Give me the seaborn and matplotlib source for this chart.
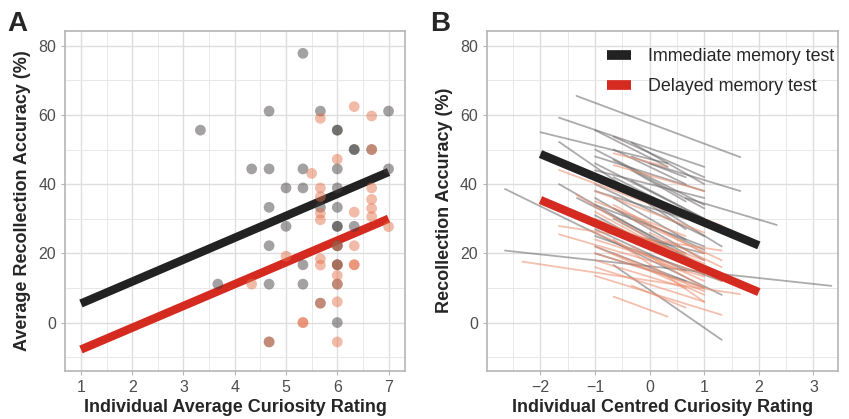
import numpy as np
import pandas as pd
import matplotlib
matplotlib.use("Agg")
import matplotlib.pyplot as plt
from matplotlib.lines import Line2D
from matplotlib.ticker import MultipleLocator
import seaborn as sns

# ---- Panel A: subject averages (curiosity, recollection %) ----
imm_curiosity = [3.33, 3.67, 4.33, 4.67, 4.67, 4.67, 4.67, 4.67, 4.67, 5.0, 5.0,
                 5.33, 5.33, 5.33, 5.33, 5.33, 5.67, 5.67, 5.67, 6.0, 6.0, 6.0,
                 6.0, 6.0, 6.0, 6.0, 6.0, 6.0, 6.0, 6.0, 6.0, 6.0, 6.33, 6.33,
                 6.33, 6.67, 7.0, 7.0]
imm_recall = [55.6, 11.1, 44.4, 61.1, 44.4, 33.3, 22.2, 11.1, -5.6, 38.9, 27.8,
              77.8, 44.4, 38.9, 16.7, 11.1, 61.1, 33.3, 5.6, 55.6, 55.6, 44.4,
              38.9, 33.3, 27.8, 27.8, 22.2, 22.2, 16.7, 16.7, 11.1, 0.0, 50.0, 50.0,
              27.8, 50.0, 61.1, 44.4]

del_curiosity = [4.33, 4.67, 5.0, 5.33, 5.33, 5.5, 5.67, 5.67, 5.67, 5.67, 5.67,
                 5.67, 5.67, 5.67, 6.0, 6.0, 6.0, 6.0, 6.0, 6.0, 6.0, 6.33, 6.33,
                 6.33, 6.33, 6.33, 6.67, 6.67, 6.67, 6.67, 6.67, 6.67, 7.0]
del_recall = [11.1, -5.6, 19.2, 0.0, 0.0, 43.1, 59.0, 38.9, 36.4, 31.6, 29.7,
              18.4, 16.6, 5.6, 47.2, 22.2, 16.7, 13.6, 11.1, 6.0, -5.6, 62.4, 31.9,
              22.2, 16.7, 16.7, 59.7, 50.0, 38.9, 35.6, 33.0, 30.6, 27.7]

# group-level fits, panel A
fit_a_x = [1, 7]
fit_a_imm = [5.5, 43.5]
fit_a_del = [-7.8, 30.0]

# ---- Panel B: per-subject slopes on centred curiosity (start / end) ----
imm_c0 = [-1.34, -2.0, -1.66, -1.66, -2.65, -2.65, -0.66, 0.66, -0.66, -1.0, -1.0,
          -1.0, -1.0, -1.0, -1.0, -1.0, -1.0, -1.0, -0.66, -0.66, -0.33, -0.33,
          -1.0, -1.0, -1.33, -1.66, -0.33, -0.66, 0.0, -1.0, -0.66, -1.0, -0.66,
          -0.33, -1.0, -1.0, -0.66, -1.0, -0.33]
imm_v0 = [65.5, 55.0, 59.2, 52.2, 38.6, 20.8, 16.6, 36.0, 53.7, 55.6, 48.0,
          46.0, 44.0, 40.0, 36.0, 34.0, 31.0, 28.0, 50.0, 47.0, 52.0, 44.0,
          25.0, 22.0, 36.0, 40.0, 38.0, 42.0, 46.0, 38.0, 30.0, 42.0, 36.0,
          48.0, 20.0, 50.0, 33.0, 27.0, 41.0]
imm_c1 = [1.66, 0.33, 1.0, 0.66, 1.32, 3.33, 1.32, 2.33, 1.0, 0.33, 1.0,
          1.0, 1.0, 1.0, 1.0, 1.0, 1.0, 1.0, 0.66, 1.0, 1.0, 0.66,
          1.32, 1.0, 0.66, 1.0, 1.32, 1.32, 1.66, 0.66, 1.0, 1.0, 0.66,
          0.66, 0.66, 1.0, 1.0, 0.66, 1.0]
imm_v1 = [47.8, 46.0, 45.0, 27.0, 8.0, 10.6, -5.0, 28.2, 42.0, 45.0, 38.0,
          30.0, 36.0, 25.0, 18.0, 22.0, 14.0, 20.0, 40.0, 33.0, 40.0, 35.0,
          12.0, 10.0, 20.0, 16.0, 22.0, 26.0, 38.0, 30.0, 16.0, 28.0, 24.0,
          42.0, 12.0, 34.0, 21.0, 15.0, 30.0]

del_c0 = [-2.33, -1.66, -1.66, -0.66, -0.33, -1.0, -1.66, -1.34, -0.66, -0.66,
          -1.0, -1.0, -1.0, -1.0, -1.0, -1.0, -1.0, -0.66, -0.66, -0.33, -1.0,
          -0.66, -1.33, -0.33, 0.0, -1.0, -0.66, -1.0, -1.0, -0.66]
del_v0 = [17.6, 27.9, 25.5, 7.5, 10.7, 13.5, 44.1, 36.9, 45.5, 48.9,
          32.0, 29.0, 26.0, 24.0, 22.0, 20.0, 18.0, 34.0, 28.0, 30.0, 35.0,
          24.0, 30.0, 22.0, 26.0, 38.0, 40.0, 16.0, 30.0, 20.0]
del_c1 = [1.66, 1.32, 1.0, 0.33, 0.66, 1.32, 0.66, 0.33, 1.0, 0.33,
          1.0, 1.0, 1.0, 1.0, 1.0, 1.0, 0.66, 1.0, 1.32, 1.32, 0.66,
          1.0, 0.66, 1.0, 1.32, 1.0, 1.32, 1.0, 1.0, 1.0]
del_v1 = [8.2, 20.8, 13.3, 1.7, 4.3, 2.2, 30.4, 21.0, 38.0, 45.0,
          15.0, 18.0, 12.0, 14.0, 8.0, 10.0, 10.0, 20.0, 12.0, 18.0, 25.0,
          6.0, 20.0, 10.0, 16.0, 26.0, 28.0, 6.0, 17.0, 9.0]

# group-level fits, panel B
fit_b_x = [-2, 2]
fit_b_imm = [48.7, 22.3]
fit_b_del = [35.4, 8.8]

col_imm = "#222222"
col_del = "#D42A20"
pt_imm = "#403c3c"
pt_del = "#E4714A"

df_a = pd.concat([
    pd.DataFrame({"curiosity": imm_curiosity, "recall": imm_recall, "test": "Immediate"}),
    pd.DataFrame({"curiosity": del_curiosity, "recall": del_recall, "test": "Delayed"}),
])

rows = []
for i in range(len(imm_c0)):
    rows.append(["imm%d" % i, imm_c0[i], imm_v0[i], "Immediate"])
    rows.append(["imm%d" % i, imm_c1[i], imm_v1[i], "Immediate"])
for i in range(len(del_c0)):
    rows.append(["del%d" % i, del_c0[i], del_v0[i], "Delayed"])
    rows.append(["del%d" % i, del_c1[i], del_v1[i], "Delayed"])
df_b = pd.DataFrame(rows, columns=["subject", "centred", "recall", "test"])

df_fit_a = pd.DataFrame({"x": fit_a_x * 2, "y": fit_a_imm + fit_a_del,
                         "test": ["Immediate"] * 2 + ["Delayed"] * 2})
df_fit_b = pd.DataFrame({"x": fit_b_x * 2, "y": fit_b_imm + fit_b_del,
                         "test": ["Immediate"] * 2 + ["Delayed"] * 2})

sns.set_theme(style="white")
plt.rcParams["font.family"] = ["Liberation Sans", "DejaVu Sans"]

fig = plt.figure(figsize=(8.49, 4.19), dpi=100)
ax1 = fig.add_axes([0.0766, 0.1146, 0.4004, 0.8126])
ax2 = fig.add_axes([0.5736, 0.1146, 0.4134, 0.8126])

# Panel A
sns.lineplot(data=df_fit_a, x="x", y="y", hue="test",
             palette={"Immediate": col_imm, "Delayed": col_del},
             lw=6, legend=False, ax=ax1, zorder=2)
for ln in ax1.lines:
    ln.set_solid_capstyle("butt")
sns.scatterplot(data=df_a, x="curiosity", y="recall", hue="test",
                palette={"Immediate": pt_imm, "Delayed": pt_del},
                s=60, alpha=0.48, edgecolor="none", legend=False, ax=ax1, zorder=3)

# Panel B
sns.lineplot(data=df_b, x="centred", y="recall", hue="test", units="subject",
             estimator=None, palette={"Immediate": "#6a6666", "Delayed": "#EC8C6C"},
             lw=1.3, alpha=0.55, legend=False, ax=ax2, zorder=2)
sns.lineplot(data=df_fit_b, x="x", y="y", hue="test",
             palette={"Immediate": col_imm, "Delayed": col_del},
             lw=6, legend=False, ax=ax2, zorder=3)
for ln in ax2.lines[-2:]:
    ln.set_solid_capstyle("butt")

for ax, xlim in ((ax1, (0.69, 7.32)), (ax2, (-2.98, 3.45))):
    ax.set_xlim(*xlim)
    ax.set_ylim(-14, 84.4)
    ax.yaxis.set_major_locator(MultipleLocator(20))
    ax.yaxis.set_minor_locator(MultipleLocator(10))
    ax.xaxis.set_major_locator(MultipleLocator(1))
    ax.xaxis.set_minor_locator(MultipleLocator(0.5))
    ax.grid(which="major", color="#dedede", lw=1.0)
    ax.grid(which="minor", color="#e8e8e8", lw=0.7)
    ax.set_axisbelow(True)
    for sp in ax.spines.values():
        sp.set_color("#b5b5b5")
        sp.set_linewidth(1.2)
    ax.tick_params(which="major", length=3, width=0.8, color="#b5b5b5",
                   labelsize=11.5, labelcolor="#4d4d4d", pad=3.5, bottom=True, left=True)
    ax.tick_params(which="minor", length=0)

ax1.set_xlabel("Individual Average Curiosity Rating", fontsize=13, fontweight="bold", labelpad=3)
ax1.set_ylabel("Average Recollection Accuracy (%)", fontsize=13, fontweight="bold", labelpad=5)
ax2.set_xlabel("Individual Centred Curiosity Rating", fontsize=13, fontweight="bold", labelpad=3)
ax2.set_ylabel("Recollection Accuracy (%)", fontsize=13, fontweight="bold", labelpad=5)

handles = [Line2D([0], [0], color=col_imm, lw=7, solid_capstyle="butt"),
           Line2D([0], [0], color=col_del, lw=7, solid_capstyle="butt")]
ax2.legend(handles, ["Immediate memory test", "Delayed memory test"],
           loc="upper right", frameon=False, fontsize=12.9, handlelength=1.35,
           handletextpad=0.95, labelspacing=0.72, bbox_to_anchor=(1.035, 0.995))

fig.text(0.009, 0.925, "A", fontsize=20, fontweight="bold")
fig.text(0.507, 0.925, "B", fontsize=20, fontweight="bold")

fig.savefig("out.png", dpi=100)
